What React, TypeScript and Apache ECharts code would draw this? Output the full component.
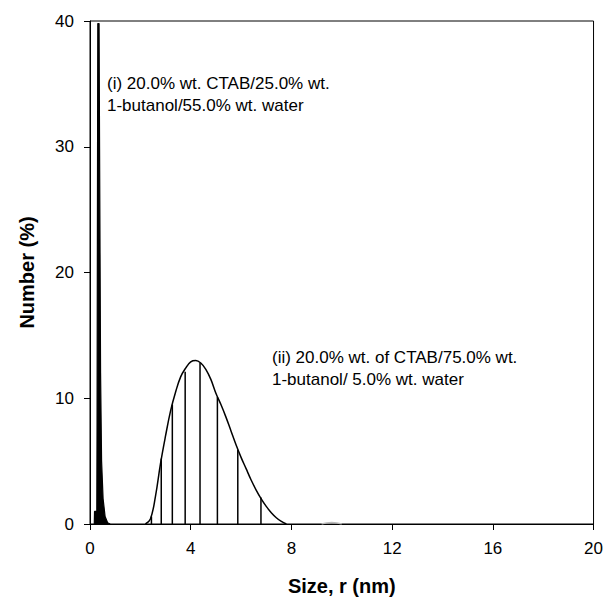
import React, { useEffect, useRef } from "react";
import * as echarts from "echarts";

// Sample (i): narrow peak (size nm, number %)
const spikeSize = [0.17, 0.18, 0.27, 0.28, 0.3, 0.31, 0.36, 0.38, 0.42, 0.46, 0.52, 0.6, 0.7, 0.8];
const spikeNum = [0, 1, 1, 8, 30, 39.8, 39.8, 30, 12, 5, 2, 0.6, 0.1, 0];

// Sample (ii): smooth distribution curve
const curveSize = [2.2, 2.4, 2.6, 2.8, 3.0, 3.2, 3.4, 3.6, 3.8, 4.0, 4.2, 4.4, 4.6, 4.8, 5.0, 5.2, 5.4, 5.6, 5.8, 6.0, 6.2, 6.4, 6.6, 6.8, 7.0, 7.2, 7.4, 7.6, 7.8];
const curveNum = [0, 0.4, 2.2, 4.8, 7.0, 9.0, 10.5, 11.7, 12.4, 12.9, 13.0, 12.8, 12.3, 11.5, 10.4, 9.5, 8.5, 7.4, 6.3, 5.3, 4.4, 3.5, 2.7, 2.0, 1.4, 0.9, 0.5, 0.2, 0];

// Sample (ii): histogram bins (vertical lines)
const binSize = [2.44, 2.83, 3.27, 3.78, 4.37, 5.06, 5.87, 6.79];
const binNum = [0.6, 5.2, 9.5, 12.1, 12.8, 10.1, 5.9, 2.1];

// Tiny bump near 10 nm
const bumpSize = [9.2, 9.6, 10.0];
const bumpNum = [0, 0.12, 0];

const xTicks = { min: 0, max: 20, interval: 4 };
const yTicks = { min: 0, max: 40, interval: 10 };

const labelI = ["(i) 20.0% wt. CTAB/25.0% wt.", "1-butanol/55.0% wt. water"];
const labelII = ["(ii) 20.0% wt. of CTAB/75.0% wt.", "1-butanol/ 5.0% wt. water"];

const FONT = "'Liberation Sans', Arial, sans-serif";

export default function App() {
  const ref = useRef<HTMLDivElement>(null);
  useEffect(() => {
    if (!ref.current) return;
    const chart = echarts.init(ref.current, undefined, { renderer: "svg" });
    const zip = (a: number[], b: number[]) => a.map((v, i) => [v, b[i]]);
    chart.setOption({
      animation: false,
      backgroundColor: "#fff",
      grid: {
        left: 90,
        top: 21,
        right: 12,
        bottom: 85,
        show: true,
        borderColor: "#000",
        borderWidth: 1,
      },
      xAxis: {
        type: "value",
        min: xTicks.min,
        max: xTicks.max,
        interval: xTicks.interval,
        name: "Size, r (nm)",
        nameLocation: "middle",
        nameGap: 52,
        nameTextStyle: { fontFamily: FONT, fontSize: 20, fontWeight: "bold", color: "#000" },
        axisLine: { lineStyle: { color: "#000", width: 1 } },
        axisTick: { inside: false, length: 6, lineStyle: { color: "#000" } },
        axisLabel: { margin: 16, fontFamily: FONT, fontSize: 17, color: "#000" },
        splitLine: { show: false },
      },
      yAxis: {
        type: "value",
        min: yTicks.min,
        max: yTicks.max,
        interval: yTicks.interval,
        name: "Number (%)",
        nameLocation: "middle",
        nameGap: 53,
        nameTextStyle: { fontFamily: FONT, fontSize: 20, fontWeight: "bold", color: "#000" },
        axisLine: { show: true, lineStyle: { color: "#000", width: 1 } },
        axisTick: { show: true, inside: false, length: 6, lineStyle: { color: "#000" } },
        axisLabel: { margin: 16, fontFamily: FONT, fontSize: 17, color: "#000" },
        splitLine: { show: false },
      },
      series: [
        {
          type: "line",
          data: zip(spikeSize, spikeNum),
          symbol: "none",
          lineStyle: { color: "#000", width: 1.2 },
          areaStyle: { color: "#000", opacity: 1 },
        },
        {
          type: "line",
          data: zip(curveSize, curveNum),
          symbol: "none",
          smooth: 0.4,
          lineStyle: { color: "#000", width: 1.5 },
        },
        {
          type: "line",
          data: zip(bumpSize, bumpNum),
          symbol: "none",
          smooth: true,
          lineStyle: { color: "#bbb", width: 1.5 },
        },
        {
          type: "custom",
          data: zip(binSize, binNum),
          renderItem: (params: any, api: any) => {
            const p0 = api.coord([api.value(0), 0]);
            const p1 = api.coord([api.value(0), api.value(1)]);
            return {
              type: "line",
              shape: { x1: p0[0], y1: p0[1], x2: p1[0], y2: p1[1] },
              style: { stroke: "#000", lineWidth: 1.5 },
            };
          },
        },
      ],
      graphic: [
        {
          type: "text",
          left: 107,
          top: 72,
          style: {
            text: labelI.join("\n"),
            font: `17px ${FONT}`,
            fill: "#000",
            lineHeight: 22,
          },
        },
        {
          type: "text",
          left: 272,
          top: 346,
          style: {
            text: labelII.join("\n"),
            font: `17px ${FONT}`,
            fill: "#000",
            lineHeight: 22,
          },
        },
      ],
    });
    return () => chart.dispose();
  }, []);
  return <div ref={ref} style={{ width: 606, height: 609, position: "absolute", left: 0, top: 0 }} />;
}
